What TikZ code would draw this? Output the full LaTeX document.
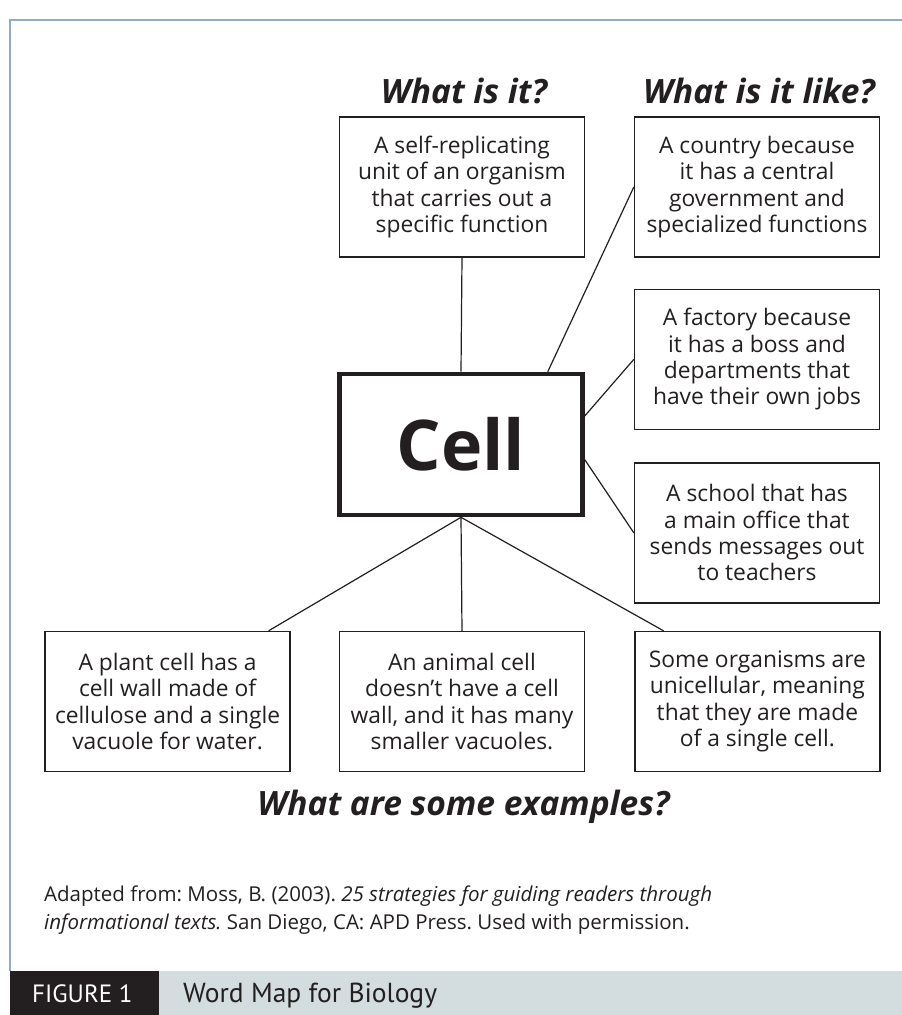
\documentclass[tikz,border=0pt]{standalone}
\usepackage{fontspec}
\setmainfont{Open Sans}
\newfontfamily\barfont{PT Sans}
\usetikzlibrary{positioning}
\definecolor{framegrey}{HTML}{8EADC2}
\definecolor{barblue}{HTML}{D3DDE0}
\definecolor{inkblack}{HTML}{231F20}
\frenchspacing
\tikzset{
    mapbox/.style={draw=inkblack, line width=1.4pt, minimum width=245pt, minimum height=140pt,
        inner sep=0pt, align=center, text=inkblack, font=\fontsize{22.8}{26.3}\selectfont},
    cellbox/.style={draw=inkblack, line width=4.6pt, minimum width=243pt, minimum height=141pt,
        inner sep=0pt, text=inkblack, font=\fontsize{70}{80}\selectfont\bfseries},
    heading/.style={anchor=base, text=inkblack, font=\fontsize{33.5}{38}\selectfont\bfseries\itshape},
    link/.style={draw=inkblack, line width=1.2pt}
}
\begin{document}
\begin{tikzpicture}[x=1pt, y=-1pt]
    \useasboundingbox (0,0) rectangle (902,1015);

    % Frame and caption bar
    \draw[framegrey, line width=2pt] (10,971) -- (10,20) -- (902,20);
    \fill[barblue] (10,971) rectangle (902,1015);
    \fill[inkblack] (10,971) rectangle (159,1015);
    \node[anchor=base west, text=white, inner sep=0pt, font=\barfont\fontsize{25}{30}\selectfont] (fignum) at (32,1002) {FIGURE 1};
    \node[anchor=base west, text=inkblack, inner sep=0pt, font=\barfont\fontsize{27.5}{32}\selectfont] (figtitle) at (183,1002) {Word Map for Biology};

    % Centre word
    \node[cellbox] (cell) at (461,444.5) {Cell};

    % What is it?
    \node[heading] (whatis) at (464,103) {What is it?};
    \node[mapbox] (def) at (462,187) {A self-replicating\\unit of an organism\\that carries out a\\specific function};

    % What is it like?
    \node[heading] (whatlike) at (759,103) {What is it like?};
    \node[mapbox] (country) at (757,187) {A country because\\it has a central\\government and\\specialized functions};
    \node[mapbox, below=31pt of country] (factory) {A factory because\\it has a boss and\\departments that\\have their own jobs};
    \node[mapbox, below=32pt of factory] (school) {A school that has\\a main office that\\sends messages out\\to teachers};

    % What are some examples?
    \node[mapbox] (animal) at (462,701.5) {An animal cell\\doesn’t have a cell\\wall, and it has many\\smaller vacuoles.};
    \node[mapbox, left=48pt of animal] (plant) {A plant cell has a\\cell wall made of\\cellulose and a single\\vacuole for water.};
    \node[mapbox, right=49pt of animal] (unicell) {Some organisms are\\unicellular, meaning\\that they are made\\of a single cell.};
    \node[heading] (examples) at (463.5,815) {What are some examples?};

    % Links to the centre word
    \draw[link] (def.south) -- (cell.north);
    \draw[link] (cell.40) -- (country.west);
    \draw[link] (cell.13) -- (factory.west);
    \draw[link] (cell.-7) -- (school.west);
    \draw[link] (cell.south) -- (plant.35);
    \draw[link] (cell.south) -- (animal.north);
    \draw[link] (cell.south) -- (unicell.143);

    % Source
    \node[anchor=base west, inner sep=0pt, text=inkblack, font=\fontsize{20.5}{28}\selectfont] (cite1) at (44,901)
        {Adapted from: Moss, B. (2003). \textit{25 strategies for guiding readers through}};
    \node[anchor=base west, inner sep=0pt, text=inkblack, font=\fontsize{20.5}{28}\selectfont] (cite2) at (44,929)
        {\textit{informational texts.} San Diego, CA: APD Press. Used with permission.};

\end{tikzpicture}
\end{document}
